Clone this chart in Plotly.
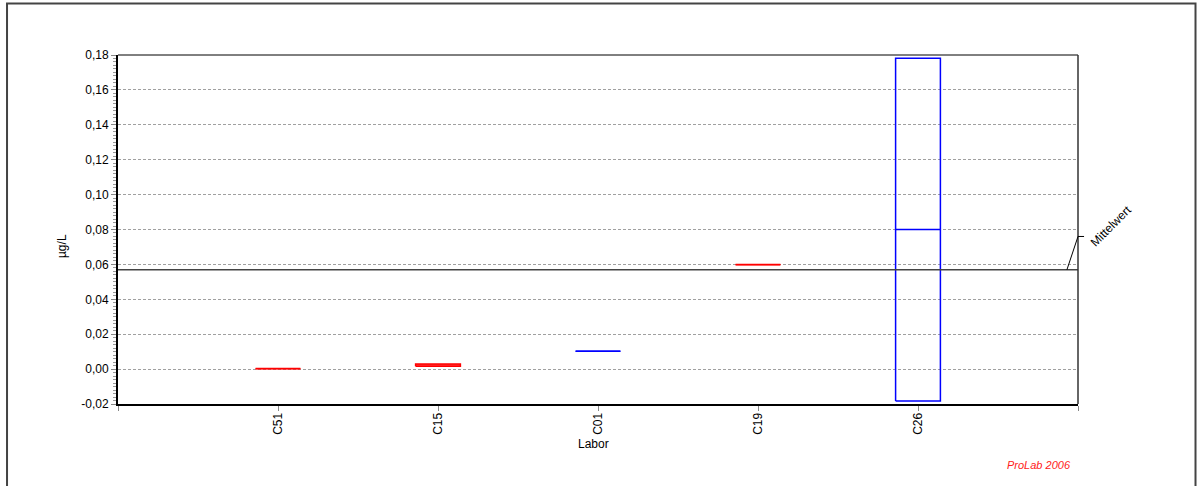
import plotly.graph_objects as go

labs = ["C51", "C15", "C01", "C19", "C26"]
low = [0.0002, 0.0017, 0.0102, 0.0598, -0.0183]
high = [0.0006, 0.0029, 0.0104, 0.0601, 0.1782]
median = [0.0004, 0.0023, 0.0103, 0.0600, 0.0800]
colors = ["#ff0000", "#ff0000", "#0000ff", "#ff0000", "#0000ff"]
mean_value = 0.057
y_ticks = [-0.02, 0.0, 0.02, 0.04, 0.06, 0.08, 0.10, 0.12, 0.14, 0.16, 0.18]
y_tick_labels = ["-0,02", "0,00", "0,02", "0,04", "0,06", "0,08",
                 "0,10", "0,12", "0,14", "0,16", "0,18"]

FONT = "Liberation Sans, Arial, sans-serif"
half = 0.14

fig = go.Figure()

for i, (lab, lo, hi, md, c) in enumerate(zip(labs, low, high, median, colors)):
    xc = i + 1
    fig.add_trace(go.Scatter(
        x=[xc - half, xc + half, xc + half, xc - half, xc - half],
        y=[lo, lo, hi, hi, lo],
        mode="lines", line=dict(color=c, width=1.5),
        fill="toself", fillcolor="rgba(0,0,0,0)",
        hoverinfo="skip", showlegend=False))
    fig.add_trace(go.Scatter(
        x=[xc - half, xc + half], y=[md, md],
        mode="lines", line=dict(color=c, width=1.5),
        name=lab, showlegend=False))

# mean line
fig.add_trace(go.Scatter(x=[0, 6], y=[mean_value, mean_value], mode="lines",
                         line=dict(color="#444444", width=1.5),
                         hoverinfo="skip", showlegend=False))

fig.update_layout(
    width=1199, height=486,
    margin=dict(l=118, r=121, t=55, b=82),
    paper_bgcolor="white", plot_bgcolor="white",
    separators=", ",
    font=dict(family=FONT, size=12, color="black"),
    xaxis=dict(
        range=[0, 6], tickvals=[0, 1, 2, 3, 4, 5, 6],
        ticktext=[""] + labs + [""],
        tickangle=-90, ticks="outside", ticklen=5, tickcolor="#888888",
        ticklabelstandoff=-3,
        showgrid=False, zeroline=False,
        showline=True, linecolor="black", linewidth=2,
        tickfont=dict(size=12, family=FONT),
    ),
    yaxis=dict(
        range=[-0.02, 0.18], tickvals=y_ticks, ticktext=y_tick_labels,
        ticks="outside", ticklen=5, tickcolor="#888888",
        minor=dict(dtick=0.002, ticks="outside", ticklen=3, tickcolor="#999999", showgrid=False),
        showgrid=True, gridcolor="#a0a0a0", griddash="3px,2px", gridwidth=1,
        zeroline=False,
        showline=True, linecolor="black", linewidth=2,
        tickfont=dict(size=12, family=FONT),
    ),
    shapes=[
        # plot frame top/right
        dict(type="line", xref="paper", yref="paper", x0=0, x1=1, y0=1, y1=1,
             line=dict(color="black", width=1)),
        dict(type="line", xref="paper", yref="paper", x0=1, x1=1, y0=0, y1=1,
             line=dict(color="#333333", width=1.5)),
        # outer frame
        dict(type="rect", xref="paper", yref="paper",
             x0=-0.1156, x1=1.1224, y0=-0.26, y1=1.1476,
             line=dict(color="#444444", width=2)),
        # Mittelwert pointer
        dict(type="line", xref="paper", yref="y", x0=0.9885, x1=1.0,
             y0=mean_value, y1=mean_value + 0.019, line=dict(color="black", width=1)),
        dict(type="line", xref="paper", yref="y", x0=1.0, x1=1.0063,
             y0=mean_value + 0.019, y1=mean_value + 0.019, line=dict(color="black", width=1)),
    ],
    annotations=[
        dict(text="µg/L", xref="paper", yref="paper", x=-0.0583, y=0.4527,
             xanchor="center", yanchor="middle",
             textangle=-90, showarrow=False, font=dict(size=12, family=FONT)),
        dict(text="Labor", xref="paper", yref="paper", x=0.4958, y=-0.1146,
             xanchor="center", yanchor="middle",
             showarrow=False, font=dict(size=12, family=FONT)),
        dict(text="<i>ProLab 2006</i>", xref="paper", yref="paper", x=0.9948, y=-0.1748,
             xanchor="right", yanchor="middle",
             showarrow=False, font=dict(size=11, family=FONT, color="#ff2020")),
        dict(text="Mittelwert", xref="paper", yref="paper", x=1.0344, y=0.51,
             xanchor="center", yanchor="middle",
             textangle=-45, showarrow=False, font=dict(size=12, family=FONT)),
    ],
)

fig.write_html(
    "out.html",
    config={"displayModeBar": False},
    post_script="document.body.style.margin='0';document.body.style.overflow='hidden';",
)
